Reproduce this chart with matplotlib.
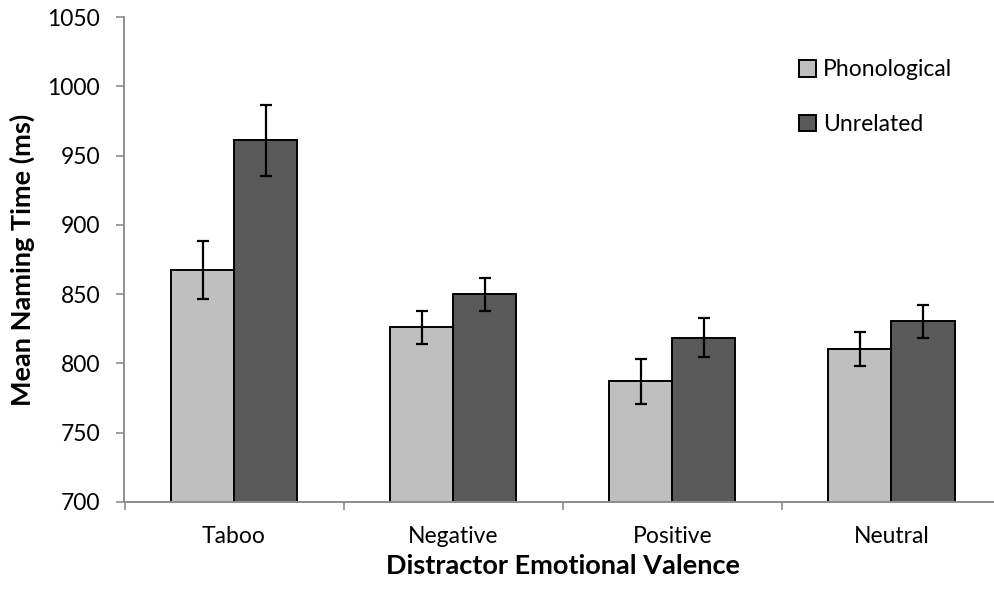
import matplotlib
matplotlib.use("Agg")
import matplotlib.pyplot as plt
import numpy as np

plt.rcParams["font.family"] = ["Lato", "DejaVu Sans"]

categories = ["Taboo", "Negative", "Positive", "Neutral"]
phonological = [867.5, 826, 787, 810.5]
unrelated = [961, 850, 818.5, 830.5]
phonological_err = [21, 12, 16, 12]
unrelated_err = [25.5, 12, 14, 12]

AXIS_GRAY = "#8c8c8c"

fig = plt.figure(figsize=(9.94, 5.94), dpi=100)
# axes spans a little past the right edge of the canvas
ax = fig.add_axes([124.5 / 994, 92 / 594, (1001 - 124.5) / 994, 485 / 594])

x = np.arange(len(categories))
w = 0.288
err_kw = dict(ecolor="black", elinewidth=1.6, capsize=4.3, capthick=1.6)
ax.bar(x - w / 2, phonological, w, yerr=phonological_err, color="#bfbfbf",
       edgecolor="black", linewidth=1.4, label="Phonological", error_kw=err_kw)
ax.bar(x + w / 2, unrelated, w, yerr=unrelated_err, color="#595959",
       edgecolor="black", linewidth=1.4, label="Unrelated", error_kw=err_kw)

ax.set_xlim(-0.5, len(categories) - 0.5)
ax.set_ylim(700, 1050)
ax.set_yticks(np.arange(700, 1051, 50))
ax.set_xticks(x)
ax.set_xticklabels(categories)
ax.set_xticks(np.arange(-0.5, len(categories)), minor=True)
ax.tick_params(axis="x", which="major", length=0, pad=17.5, labelsize=16.5)
ax.tick_params(axis="x", which="minor", length=5.5, width=1.2, color=AXIS_GRAY)
ax.tick_params(axis="y", length=5.5, width=1.2, color=AXIS_GRAY, pad=12, labelsize=16.5)

for side in ("top", "right"):
    ax.spines[side].set_visible(False)
for side in ("left", "bottom"):
    ax.spines[side].set_color(AXIS_GRAY)
    ax.spines[side].set_linewidth(1.4)

ax.set_xlabel("Distractor Emotional Valence", fontsize=19.5, fontweight="bold", labelpad=5)
ax.set_ylabel("Mean Naming Time (ms)", fontsize=19.5, fontweight="bold", labelpad=9)

ax.legend(loc="upper left", bbox_to_anchor=(790 / 994, 1 - 50 / 594), bbox_transform=fig.transFigure,
          frameon=False, fontsize=16.5, handlelength=0.75, handleheight=0.75,
          handletextpad=0.3, labelspacing=1.48, borderaxespad=0)

fig.savefig("out.png", dpi=100)
